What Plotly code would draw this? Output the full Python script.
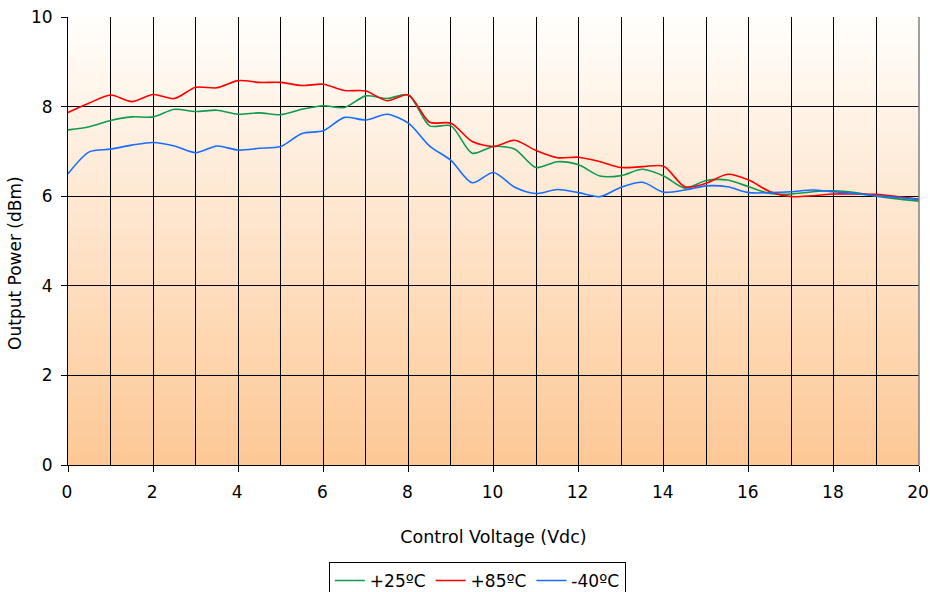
import plotly.graph_objects as go

x_vals = [i * 0.5 for i in range(41)]

plus25 = [7.48, 7.55, 7.69, 7.77, 7.77, 7.94, 7.89, 7.92, 7.83, 7.86, 7.82, 7.94, 8.02, 7.98,
          8.24, 8.18, 8.26, 7.57, 7.57, 6.96, 7.11, 7.05, 6.64, 6.77, 6.70, 6.45, 6.46, 6.60,
          6.45, 6.18, 6.35, 6.36, 6.21, 6.06, 6.05, 6.10, 6.12, 6.08, 6.00, 5.94, 5.89]
plus85 = [7.87, 8.08, 8.26, 8.11, 8.27, 8.18, 8.43, 8.42, 8.58, 8.54, 8.54, 8.47, 8.50, 8.36,
          8.35, 8.13, 8.26, 7.65, 7.63, 7.22, 7.11, 7.25, 7.02, 6.86, 6.87, 6.77, 6.64, 6.66,
          6.67, 6.21, 6.29, 6.49, 6.36, 6.10, 5.99, 6.01, 6.05, 6.05, 6.04, 5.99, 5.93]
minus40 = [6.50, 6.99, 7.05, 7.14, 7.20, 7.12, 6.97, 7.12, 7.03, 7.07, 7.11, 7.40, 7.46, 7.76,
           7.70, 7.83, 7.63, 7.12, 6.80, 6.30, 6.53, 6.20, 6.06, 6.15, 6.08, 5.99, 6.20, 6.31,
           6.09, 6.14, 6.23, 6.21, 6.08, 6.08, 6.10, 6.14, 6.10, 6.06, 6.01, 5.97, 5.93]

series_names = ["+25ºC", "+85ºC", "-40ºC"]
series_colors = ["#0f9a4f", "#ff0000", "#1a6cff"]

x_ticks = list(range(0, 21, 2))
y_ticks = list(range(0, 11, 2))

x_title = "Control Voltage (Vdc)"
y_title = "Output Power (dBm)"

fig = go.Figure()
for name, ys, col in zip(series_names, [plus25, plus85, minus40], series_colors):
    fig.add_trace(go.Scatter(x=x_vals, y=ys, mode="lines", name=name,
                             line=dict(color=col, width=1.6, shape="spline", smoothing=0.8)))

# gradient background (white at top -> light orange at bottom)
n = 80
top = (255, 254, 252)
bot = (253, 200, 149)
shapes = []
for i in range(n):
    t = (i + 0.5) / n
    c = tuple(round(top[k] + (bot[k] - top[k]) * t) for k in range(3))
    shapes.append(dict(type="rect", xref="x domain", yref="y domain",
                       x0=0, x1=1, y0=1 - (i + 1) / n, y1=1 - i / n + 0.002,
                       fillcolor="rgb(%d,%d,%d)" % c, line=dict(width=0), layer="below"))
# right border
shapes.append(dict(type="line", xref="x domain", yref="y domain", x0=1, x1=1, y0=0, y1=1,
                   line=dict(color="#808080", width=1.5), layer="above"))

font_family = "DejaVu Sans, Verdana, sans-serif"

fig.update_layout(
    width=930, height=592,
    margin=dict(l=68, r=11, t=17, b=127, autoexpand=False),
    paper_bgcolor="white",
    plot_bgcolor="rgba(0,0,0,0)",
    shapes=shapes,
    font=dict(family=font_family, color="black", size=17),
    showlegend=True,
    legend=dict(orientation="h", x=0.481, xanchor="center",
                yref="container", y=1 - 562 / 592, yanchor="top",
                bordercolor="black", borderwidth=1, bgcolor="white",
                font=dict(size=17), itemwidth=30, tracegroupgap=0),
    xaxis=dict(range=[0, 20], tickvals=x_ticks,
               showgrid=True, gridcolor="black", gridwidth=1,
               ticks="outside", ticklen=6, tickcolor="black",
               showline=True, linecolor="black", linewidth=1,
               zeroline=False, automargin=False, tickfont=dict(size=17),
               ticklabeloverflow="allow", ticklabelstandoff=6, ticklabelshift=-1,
               title=dict(text=x_title, font=dict(size=17.5), standoff=29)),
    yaxis=dict(range=[0, 10], tickvals=y_ticks,
               showgrid=True, gridcolor="black", gridwidth=1,
               ticks="outside", ticklen=6, tickcolor="black",
               showline=True, linecolor="black", linewidth=1,
               zeroline=False, automargin=False, tickfont=dict(size=17),
               ticklabeloverflow="allow", ticklabelstandoff=5),
    annotations=[dict(text=y_title, xref="paper", yref="paper", x=-0.0623, y=0.451,
                      xanchor="center", yanchor="middle", textangle=-90, showarrow=False,
                      font=dict(size=17))],
)
# minor vertical gridlines at every unit
fig.update_xaxes(minor=dict(dtick=1, showgrid=True, gridcolor="black", gridwidth=1, ticks=""))

# remove the browser's default 8px page margin so the figure fills the window exactly
fig.write_html("out.html", config={"displayModeBar": False},
               post_script="document.body.style.margin='0';document.body.style.overflow='hidden';")
